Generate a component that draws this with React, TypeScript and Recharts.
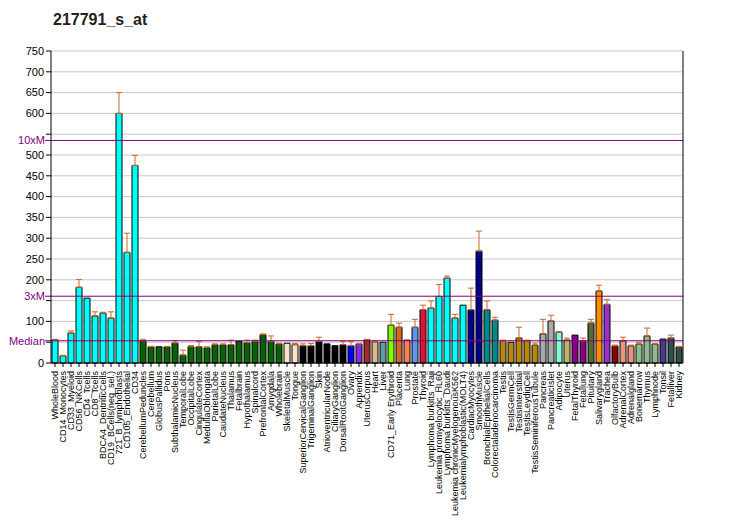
import React from "react";
import {
  BarChart,
  Bar,
  XAxis,
  YAxis,
  CartesianGrid,
  ReferenceLine,
  ErrorBar,
  Cell,
} from "recharts";

const categories = [
  "WholeBlood", "CD14_Monocytes", "CD33_Myeloid", "CD56_NKCells", "CD4_Tcells", "CD8_Tcells",
  "BDCA4_DentriticCells", "CD19_BCells(neg_sel.)", "721_B_lymphoblasts", "CD105_Endothelial", "CD34",
  "CerebellumPeduncles", "Cerebellum", "GlobusPallidus", "Pons", "SubthalamicNucleus", "TemporalLobe",
  "OccipitalLobe", "CingulateCortex", "MedullaOblongata", "ParietalLobe", "CaudateNucleus", "Thalamus",
  "Fetalbrain", "Hypothalamus", "Spinalcord", "PrefrontalCortex", "Amygdala", "Wholebrain",
  "SkeletalMuscle", "Tongue", "SuperiorCervicalGanglion", "TrigeminalGanglion", "Skin",
  "AtrioventricularNode", "CiliaryGanglion", "DorsalRootGanglion", "Ovary", "Appendix", "UterusCorpus",
  "Heart", "Liver", "CD71_Early Erythroid", "Placenta", "Lung", "Prostate", "Thyroid",
  "Lymphoma burkitts_Raji", "Leukemia promyelocytic_HL60", "Lymphoma burkitts_Daudi",
  "Leukemia chronicMyelogenousK562", "Leukemialymphoblastic(MOLT4)", "CardiacMyocytes", "SmoothMuscle",
  "BronchialEpithelialCells", "Colorectaladenocarcinoma", "Testis", "TestisGermCell", "TestisInterstitial",
  "TestisLeydigCell", "TestisSeminiferousTubule", "Pancreas", "PancreaticIslet", "Adipocyte", "Uterus",
  "FetalThyroid", "Fetallung", "Pituitary", "Salivarygland", "Trachea", "OlfactoryBulb", "AdrenalCortex",
  "Adrenalgland", "Bonemarrow", "Thymus", "Lymphnode", "Tonsil", "Fetalliver", "Kidney",
];

const values = [
  56, 17.5, 72, 182, 156, 113, 120, 108, 600, 266, 475,
  53, 39, 39, 39, 48, 19, 39, 39, 37, 44, 44, 44, 52, 49, 52, 68, 52, 46,
  47.5, 44, 41.5, 41.5, 52, 46, 41.5, 44, 41.5, 45.5, 56, 51, 50, 91, 86, 55, 86, 128,
  132, 160, 204, 108, 139, 128, 269, 128, 103, 52, 50, 60, 54, 43, 70, 101, 74, 55,
  67, 53, 96, 173, 141, 41, 53, 41, 45.5, 65, 45.5, 57.5, 60, 38.5,
];

const errors: (number | null)[] = [
  1, 1, 5, 19, null, 10, 2, 15, 50, 46, 24,
  4, 1, null, 1, 6, 12, 3, 13, 2, 2, 2, 11, null, 6, 3, 2, 13, 1.5,
  null, 3, 4.5, 5.5, 10, null, null, 8, 10, 1.5, 1, 2, null, 26, 10, null, 19, 11,
  17, 29, 5, 9, null, 52, 48, 21, 7, 3, null, 26, 1, 5, 35, 14, 2, 5,
  null, 7, 9, 14, 12, 2, 9, 2, 4.5, 19, 1.5, null, 7, 1.5,
];

const colors = [
  ...Array(11).fill("#00FFFF"),
  ...Array(18).fill("#006400"),
  "#FFE4C4", "#FFE4C4",
  ...Array(6).fill("#000000"),
  "#0000FF", "#8A2BE2", "#A52A2A", "#DEB887", "#5F9EA0", "#7FFF00", "#D2691E", "#FF7F50", "#6495ED", "#DC143C",
  ...Array(5).fill("#00FFFF"),
  "#00008B", "#00008B", "#008B8B", "#008B8B",
  ...Array(5).fill("#B8860B"),
  "#A9A9A9", "#A9A9A9", "#7FFFD4", "#BDB76B", "#8B008B", "#8B008B", "#556B2F", "#FF8C00", "#9932CC",
  "#8B0000", "#E9967A", "#E9967A", "#8FBC8F", "#8FBC8F", "#8FBC8F", "#483D8B", "#2F4F4F", "#2F4F4F",
];

const yTicks = [0, 50, 100, 150, 200, 250, 300, 350, 400, 450, 500, 550, 600, 650, 700, 750];
const hiddenLeftTicks = [50, 150, 550];
const median = 53.5;
const refLines = [
  { label: "Median", value: median },
  { label: "3xM", value: median * 3 },
  { label: "10xM", value: median * 10 },
];

const data = categories.map((name, i) => ({
  name,
  value: values[i],
  err: errors[i] == null ? null : [0, errors[i]],
  color: colors[i],
}));

const FONT = "Arial, 'Liberation Sans', sans-serif";

const XTick = (props: any) => {
  const { x, y, payload } = props;
  return (
    <g transform={`translate(${x},${y})`}>
      <text
        x={0}
        y={0}
        dy="0.35em"
        transform="rotate(-90)"
        textAnchor="end"
        fontSize={9}
        fontFamily={FONT}
        fill="#000"
      >
        {payload.value}
      </text>
    </g>
  );
};

const LeftTick = (props: any) => {
  const { x, y, payload } = props;
  if (hiddenLeftTicks.includes(payload.value)) return <g />;
  return (
    <text x={x} y={y} dy="0.35em" textAnchor="end" fontSize={11} fontFamily={FONT} fill="#000">
      {payload.value}
    </text>
  );
};

const RightTick = (props: any) => {
  const { x, y, payload } = props;
  return (
    <text x={x} y={y} dy="0.35em" textAnchor="start" fontSize={11} fontFamily={FONT} fill="#000">
      {payload.value}
    </text>
  );
};

const RefLabel = (text: string) => (props: any) => {
  const { viewBox } = props;
  const x = viewBox.x;
  const y = viewBox.y;
  return (
    <g>
      <line x1={x - 6} y1={y} x2={x} y2={y} stroke="#800080" strokeWidth={1} />
      <text
        x={x - 6}
        y={y}
        dy="0.35em"
        textAnchor="end"
        fontSize={11}
        fontFamily={FONT}
        fill="#800080"
      >
        {text}
      </text>
    </g>
  );
};

export default function App() {
  return (
    <div style={{ position: "absolute", left: 0, top: 0, width: 732, height: 530, background: "#fff" }}>
      <div
        style={{
          position: "absolute",
          left: 53,
          top: 11,
          fontFamily: FONT,
          fontWeight: "bold",
          fontSize: 16,
          color: "#222",
        }}
      >
        217791_s_at
      </div>
      <BarChart
        width={732}
        height={530}
        data={data}
        margin={{ top: 51, right: 0, left: 0, bottom: 0 }}
        barCategoryGap={1}
      >
        <CartesianGrid vertical={false} stroke="#C8C8C8" yAxisId="left" />
        <XAxis
          dataKey="name"
          interval={0}
          height={167}
          tick={<XTick />}
          tickSize={4}
          tickMargin={4}
          tickLine={{ stroke: "#000" }}
          axisLine={{ stroke: "#000" }}
        />
        <YAxis
          yAxisId="left"
          orientation="left"
          width={51}
          domain={[0, 750]}
          ticks={yTicks}
          interval={0}
          tickSize={5}
          tickMargin={2}
          tick={<LeftTick />}
          tickLine={{ stroke: "#000" }}
          axisLine={{ stroke: "#000" }}
        />
        <YAxis
          yAxisId="right"
          orientation="right"
          width={49}
          domain={[0, 750]}
          ticks={yTicks}
          interval={0}
          tickSize={5}
          tickMargin={1}
          tick={<RightTick />}
          tickLine={{ stroke: "#000" }}
          axisLine={{ stroke: "#000" }}
        />
        <Bar
          dataKey="value"
          yAxisId="left"
          barSize={6}
          stroke="#000"
          strokeWidth={1}
          isAnimationActive={false}
        >
          {data.map((d, i) => (
            <Cell key={i} fill={d.color} />
          ))}
          <ErrorBar dataKey="err" direction="y" width={3} stroke="#C8682E" strokeWidth={1} />
        </Bar>
        {refLines.map((r) => (
          <ReferenceLine
            key={r.label}
            yAxisId="left"
            y={r.value}
            stroke="#800080"
            strokeWidth={1}
            label={RefLabel(r.label)}
          />
        ))}
      </BarChart>
    </div>
  );
}
